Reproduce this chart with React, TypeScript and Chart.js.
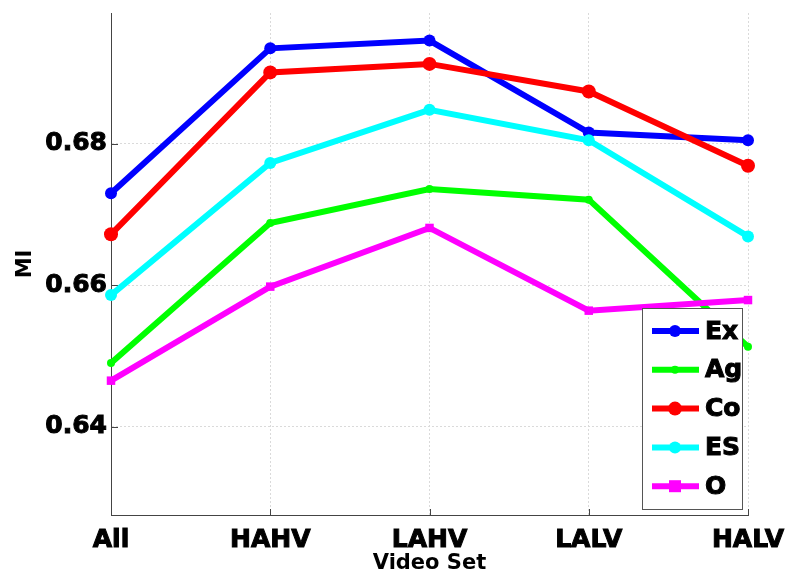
import React, { useEffect, useRef } from 'react';
import { Chart, registerables } from 'chart.js';

Chart.register(...registerables);

// Video sets on the x axis
const categories = ['All', 'HAHV', 'LAHV', 'LALV', 'HALV'];

// MI per trait
const seriesNames = ['Ex', 'Ag', 'Co', 'ES', 'O'];
const exValues = [0.6730, 0.6935, 0.6946, 0.6816, 0.6805];
const agValues = [0.6490, 0.6688, 0.6736, 0.6721, 0.6513];
const coValues = [0.6672, 0.6901, 0.6913, 0.6874, 0.6769];
const esValues = [0.6586, 0.6773, 0.6848, 0.6805, 0.6669];
const oValues = [0.6465, 0.6598, 0.6681, 0.6564, 0.6579];

const yTicks = [0.64, 0.66, 0.68];
const yMin = 0.6275;
const yMax = 0.6985;

const seriesColors = ['#0000ff', '#00ff00', '#ff0000', '#00ffff', '#ff00ff'];
const pointRadii = [6, 4, 7, 6, 6];
const pointShapes = ['circle', 'circle', 'circle', 'circle', 'rect'];

const FONT = 'DejaVu Sans';

function drawMarker(ctx: CanvasRenderingContext2D, shape: string, x: number, y: number, r: number, color: string) {
  ctx.fillStyle = color;
  ctx.beginPath();
  if (shape === 'rect') {
    ctx.rect(x - r, y - r, 2 * r, 2 * r);
  } else {
    ctx.arc(x, y, r, 0, Math.PI * 2);
  }
  ctx.fill();
}

// Short inward tick marks on the left and bottom axes
const innerTicks = {
  id: 'innerTicks',
  beforeDatasetsDraw(chart: any) {
    const { ctx, chartArea, scales } = chart;
    ctx.save();
    ctx.strokeStyle = '#444';
    ctx.lineWidth = 1;
    ctx.beginPath();
    scales.x.ticks.forEach((_t: any, i: number) => {
      const x = Math.round(scales.x.getPixelForTick(i)) + 0.5;
      ctx.moveTo(x, chartArea.bottom);
      ctx.lineTo(x, chartArea.bottom - 6);
    });
    scales.y.ticks.forEach((t: any) => {
      const y = Math.round(scales.y.getPixelForValue(t.value)) + 0.5;
      ctx.moveTo(chartArea.left, y);
      ctx.lineTo(chartArea.left + 7, y);
    });
    ctx.stroke();
    ctx.restore();
  },
};

// Boxed legend in the lower-right corner of the plot
const boxLegend = {
  id: 'boxLegend',
  afterDatasetsDraw(chart: any) {
    const { ctx, chartArea } = chart;
    const w = 100;
    const h = 201;
    const left = chartArea.right - 106;
    const top = chartArea.bottom - 207;
    ctx.save();
    ctx.fillStyle = '#ffffff';
    ctx.fillRect(left, top, w, h);
    ctx.strokeStyle = '#555';
    ctx.lineWidth = 1;
    ctx.strokeRect(left + 0.5, top + 0.5, w, h);
    const rowH = 38.8;
    chart.data.datasets.forEach((ds: any, i: number) => {
      const cy = top + 23 + i * rowH;
      ctx.strokeStyle = ds.borderColor;
      ctx.lineWidth = 6;
      ctx.beginPath();
      ctx.moveTo(left + 10, cy);
      ctx.lineTo(left + 57, cy);
      ctx.stroke();
      drawMarker(ctx, pointShapes[i], left + 33, cy, pointRadii[i], ds.borderColor);
      ctx.fillStyle = '#000';
      ctx.strokeStyle = '#000';
      ctx.lineWidth = 1;
      ctx.font = `bold 25px "${FONT}"`;
      ctx.textAlign = 'left';
      ctx.textBaseline = 'middle';
      ctx.fillText(ds.label, left + 63, cy + 1);
      ctx.strokeText(ds.label, left + 63, cy + 1);
    });
    ctx.restore();
  },
};

export default function App() {
  const canvasRef = useRef<HTMLCanvasElement | null>(null);

  useEffect(() => {
    if (!canvasRef.current) return;
    const allValues = [exValues, agValues, coValues, esValues, oValues];
    const chart = new Chart(canvasRef.current, {
      type: 'line',
      data: {
        labels: categories,
        datasets: seriesNames.map((name, i) => ({
          label: name,
          data: allValues[i],
          borderColor: seriesColors[i],
          backgroundColor: seriesColors[i],
          borderWidth: 6,
          pointRadius: pointRadii[i],
          pointStyle: pointShapes[i] as any,
          pointBorderWidth: 0,
          tension: 0,
          order: seriesNames.length - i,
        })),
      },
      options: {
        responsive: false,
        animation: false,
        events: [],
        layout: { padding: { top: 13, right: 43, left: 0, bottom: 0 } },
        plugins: {
          legend: { display: false },
          tooltip: { enabled: false },
          title: { display: false },
        },
        scales: {
          x: {
            type: 'category',
            offset: false,
            grid: { color: '#dadada', lineWidth: 1, drawTicks: false },
            border: { display: true, color: '#444', width: 1, dash: [2, 2] },
            ticks: {
              color: '#000',
              padding: 10,
              maxRotation: 0,
              autoSkip: false,
              textStrokeColor: '#000',
              textStrokeWidth: 1,
              font: { family: FONT, weight: 'bold', size: 25 },
            },
            title: {
              display: true,
              text: 'Video Set',
              color: '#000',
              font: { family: FONT, weight: 'bold', size: 21, lineHeight: 1 },
              padding: { top: 0, bottom: 0 },
            },
            afterFit(scale: any) {
              scale.height = 59;
              scale.paddingLeft = 0;
              scale.paddingRight = 0;
            },
          },
          y: {
            type: 'linear',
            min: yMin,
            max: yMax,
            grid: { color: '#dadada', lineWidth: 1, drawTicks: false },
            border: { display: true, color: '#444', width: 1, dash: [2, 2] },
            afterBuildTicks(scale: any) {
              scale.ticks = yTicks.map((v) => ({ value: v }));
            },
            ticks: {
              color: '#000',
              padding: 4,
              textStrokeColor: '#000',
              textStrokeWidth: 1,
              font: { family: FONT, weight: 'bold', size: 25 },
              callback: (v: any) => Number(v).toFixed(2),
            },
            title: {
              display: true,
              text: 'MI',
              color: '#000',
              font: { family: FONT, weight: 'bold', size: 21, lineHeight: 1 },
              padding: { top: 15, bottom: 0 },
            },
            afterFit(scale: any) {
              scale.width = 111;
              scale.paddingTop = 0;
              scale.paddingBottom = 0;
            },
          },
        },
      },
      plugins: [innerTicks, boxLegend],
    });
    return () => chart.destroy();
  }, []);

  return (
    <div style={{ position: 'absolute', left: 0, top: 0, width: 791, height: 574, background: '#fff' }}>
      <canvas ref={canvasRef} width={791} height={574} style={{ display: 'block' }} />
    </div>
  );
}
